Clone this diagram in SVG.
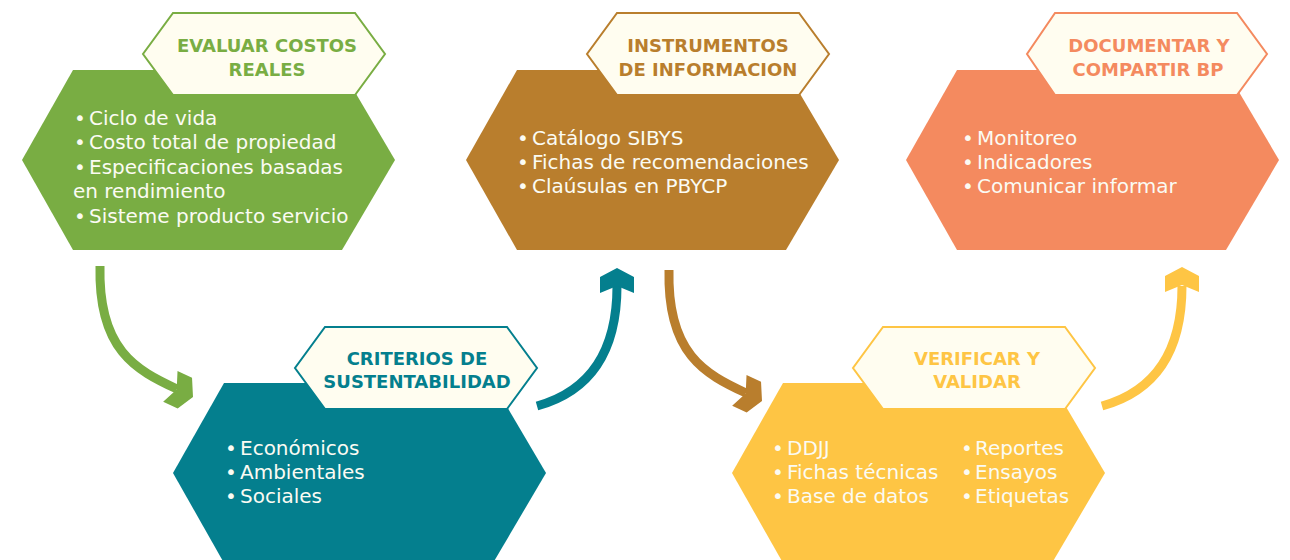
<svg xmlns="http://www.w3.org/2000/svg" width="1290" height="560" viewBox="0 0 1290 560">
<style>
.tab{fill:#fffdf0;stroke-width:2}
.tt{font-family:"DejaVu Sans","Liberation Sans",sans-serif;font-weight:bold;font-size:18px;text-anchor:middle}
.bt{font-family:"DejaVu Sans","Liberation Sans",sans-serif;font-size:20px;fill:#fbfbf3}
.sh{fill:none;stroke-width:9;stroke-linecap:butt}
</style>
<defs>
<polygon id="head" points="0,0 -9,17 -25,17 -18,0 -25,-17 -9,-17"/>
</defs>
<rect width="1290" height="560" fill="#ffffff"/>

<g id="connectors">
<path class="sh" stroke="#79ad43" d="M100,266 C98,350 136,370 177,389"/>
<use href="#head" fill="#79ad43" transform="translate(193,397) rotate(25)"/>
<path class="sh" stroke="#047f8e" d="M537,406 C595,390 617,345 617,286"/>
<use href="#head" fill="#047f8e" transform="translate(617,268) rotate(-90)"/>
<path class="sh" stroke="#b97e2d" d="M669,270 C667,354 705,374 746,393"/>
<use href="#head" fill="#b97e2d" transform="translate(762,401) rotate(25)"/>
<path class="sh" stroke="#fec544" d="M1102,406 C1160,390 1182,345 1182,286"/>
<use href="#head" fill="#fec544" transform="translate(1182,267) rotate(-90)"/>
</g>

<g id="node-evaluar">
<polygon fill="#79ad43" points="73,70 342,70 395,160 342,250 73,250 22,160"/>
<polygon class="tab" stroke="#79ad43" points="173,13 355,13 385,54 355,95 173,95 143,54"/>
<text class="tt" fill="#79ad43"><tspan x="267" y="52">EVALUAR COSTOS</tspan><tspan x="267" y="76">REALES</tspan></text>
<text class="bt"><tspan x="74" y="125">•</tspan><tspan x="89" y="125">Ciclo de vida</tspan><tspan x="74" y="149">•</tspan><tspan x="89" y="149">Costo total de propiedad</tspan><tspan x="74" y="174">•</tspan><tspan x="89" y="174">Especificaciones basadas</tspan><tspan x="73" y="198">en rendimiento</tspan><tspan x="74" y="223">•</tspan><tspan x="89" y="223">Sisteme producto servicio</tspan></text>
</g>

<g id="node-instrumentos">
<polygon fill="#b97e2d" points="517,70 786,70 839,160 786,250 517,250 466,160"/>
<polygon class="tab" stroke="#b97e2d" points="617,13 799,13 829,54 799,95 617,95 587,54"/>
<text class="tt" fill="#b97e2d"><tspan x="708" y="52">INSTRUMENTOS</tspan><tspan x="708" y="76">DE INFORMACION</tspan></text>
<text class="bt"><tspan x="517" y="145">•</tspan><tspan x="532" y="145">Catálogo SIBYS</tspan><tspan x="517" y="169">•</tspan><tspan x="532" y="169">Fichas de recomendaciones</tspan><tspan x="517" y="193">•</tspan><tspan x="532" y="193">Claúsulas en PBYCP</tspan></text>
</g>

<g id="node-documentar">
<polygon fill="#f48a5f" points="957,70 1226,70 1279,160 1226,250 957,250 906,160"/>
<polygon class="tab" stroke="#f48a5f" points="1055,13 1237,13 1267,54 1237,95 1055,95 1027,54"/>
<text class="tt" fill="#f48a5f"><tspan x="1149" y="52">DOCUMENTAR Y</tspan><tspan x="1148" y="76">COMPARTIR BP</tspan></text>
<text class="bt"><tspan x="962" y="145">•</tspan><tspan x="977" y="145">Monitoreo</tspan><tspan x="962" y="169">•</tspan><tspan x="977" y="169">Indicadores</tspan><tspan x="962" y="193">•</tspan><tspan x="977" y="193">Comunicar informar</tspan></text>
</g>

<g id="node-criterios">
<polygon fill="#047f8e" points="224,383 493,383 546,473 493,563 224,563 173,473"/>
<polygon class="tab" stroke="#047f8e" points="325,327 507,327 537,368 507,409 325,409 295,368"/>
<text class="tt" fill="#047f8e"><tspan x="417" y="365">CRITERIOS DE</tspan><tspan x="417" y="388">SUSTENTABILIDAD</tspan></text>
<text class="bt"><tspan x="225" y="455">•</tspan><tspan x="240" y="455">Económicos</tspan><tspan x="225" y="479">•</tspan><tspan x="240" y="479">Ambientales</tspan><tspan x="225" y="503">•</tspan><tspan x="240" y="503">Sociales</tspan></text>
</g>

<g id="node-verificar">
<polygon fill="#fec544" points="783,383 1052,383 1105,473 1052,563 783,563 732,473"/>
<polygon class="tab" stroke="#fec544" points="883,327 1065,327 1095,368 1065,409 883,409 853,368"/>
<text class="tt" fill="#fec544"><tspan x="977" y="365">VERIFICAR Y</tspan><tspan x="977" y="388">VALIDAR</tspan></text>
<text class="bt"><tspan x="772" y="455">•</tspan><tspan x="787" y="455">DDJJ</tspan><tspan x="772" y="479">•</tspan><tspan x="787" y="479">Fichas técnicas</tspan><tspan x="772" y="503">•</tspan><tspan x="787" y="503">Base de datos</tspan><tspan x="961" y="455">•</tspan><tspan x="975" y="455">Reportes</tspan><tspan x="961" y="479">•</tspan><tspan x="975" y="479">Ensayos</tspan><tspan x="961" y="503">•</tspan><tspan x="975" y="503">Etiquetas</tspan></text>
</g>
</svg>
